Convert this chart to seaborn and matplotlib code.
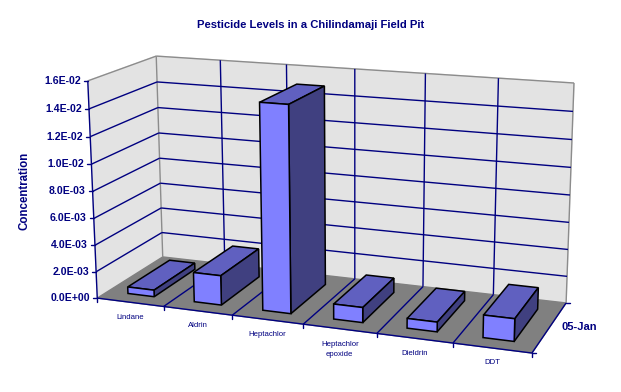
import numpy as np
import matplotlib
matplotlib.use("Agg")
import matplotlib.pyplot as plt
from matplotlib.transforms import Affine2D, Transform
import seaborn as sns

pesticides = ["Lindane", "Aldrin", "Heptachlor", "Heptachlor\nepoxide", "Dieldrin", "DDT"]
concentrations = [0.0005, 0.0022, 0.0150, 0.0011, 0.0007, 0.0016]
y_ticks = [0.0, 0.002, 0.004, 0.006, 0.008, 0.010, 0.012, 0.014, 0.016]
y_tick_labels = ["0.0E+00", "2.0E-03", "4.0E-03", "6.0E-03", "8.0E-03",
                 "1.0E-02", "1.2E-02", "1.4E-02", "1.6E-02"]
series_label = "05-Jan"

NAVY = "#000080"
X0, X1 = -0.5, 5.5
Y1 = 0.016
BAR_Z0, BAR_Z1 = 0.16, 0.81

# corners of the 3d box on the picture, the projection is fitted to them
box_corners = [
    ((X0, 0, 0), (97, 298)),
    ((X1, 0, 0), (532, 353)),
    ((X1, 0, 1), (566, 303)),
    ((X0, 0, 1), (163, 257)),
    ((X0, Y1, 0), (88, 81)),
    ((X0, Y1, 1), (156, 56)),
    ((X1, Y1, 1), (574, 83)),
]


def fit_projection(corners):
    rows, rhs = [], []
    for (x, y, z), (u, v) in corners:
        y = y / Y1
        rows.append([x, y, z, 1, 0, 0, 0, 0, -u * x, -u * y, -u * z])
        rows.append([0, 0, 0, 0, x, y, z, 1, -v * x, -v * y, -v * z])
        rhs += [u, v]
    h = np.linalg.lstsq(np.array(rows, float), np.array(rhs, float), rcond=None)[0]
    return np.append(h, 1).reshape(3, 4)


P = fit_projection(box_corners)


def project(x, y, z):
    x, y, z = np.broadcast_arrays(x, y, z)
    w = np.stack([x, y / Y1, z, np.ones_like(x)], dtype=float)
    u = P @ w
    return u[0] / u[2], u[1] / u[2]


class PlaneTransform(Transform):
    # (category, concentration) on a plane of constant depth -> picture pixels
    input_dims = 2
    output_dims = 2
    is_affine = False

    def __init__(self, plane_z):
        super().__init__()
        self.plane_z = plane_z

    def transform_non_affine(self, values):
        values = np.asarray(values, float)
        return np.column_stack(project(values[:, 0], values[:, 1], self.plane_z))


sns.set_theme(style="white")
plt.rcParams["font.family"] = ["Liberation Sans", "DejaVu Sans"]

fig = plt.figure(figsize=(6.21, 3.92), dpi=100, facecolor="white")
ax = fig.add_axes([0, 0, 1, 1])

# pixel coords of the picture (y down) to display coords
to_display = Affine2D().scale(1, -1).translate(0, 392)


def face(corners, color, z, edge=None, lw=1.0):
    px, py = project(*np.array(corners, float).T)
    ax.fill(px, py, facecolor=color, edgecolor=edge if edge else color, linewidth=lw,
            transform=to_display, zorder=z, clip_on=False)


def line(a, b, color=NAVY, z=2, lw=1.0):
    px, py = project(*np.array([a, b], float).T)
    ax.plot(px, py, color=color, linewidth=lw, transform=to_display,
            zorder=z, clip_on=False, solid_capstyle="butt")


sns.barplot(x=pesticides, y=concentrations, color="#8080FF", saturation=1, width=0.4,
            edgecolor="black", linewidth=1.1, ax=ax)
bars = list(ax.patches)
ax.set_axis_off()

# walls and floor
face([(X0, 0, 0), (X0, Y1, 0), (X0, Y1, 1), (X0, 0, 1)], "#E3E3E3", 1)
face([(X0, 0, 1), (X0, Y1, 1), (X1, Y1, 1), (X1, 0, 1)], "#E3E3E3", 1)
face([(X0, 0, 0), (X1, 0, 0), (X1, 0, 1), (X0, 0, 1)], "#808080", 1.5)

# wall edges
line((X0, Y1, 0), (X0, Y1, 1), "#8C8C8C")
line((X0, Y1, 1), (X1, Y1, 1), "#8C8C8C")
line((X1, Y1, 1), (X1, 0, 1), "#8C8C8C")
line((X0, 0, 1), (X0, Y1, 1), "#8C8C8C")

# grid
for tick in y_ticks[1:-1]:
    line((X0, tick, 0), (X0, tick, 1))
    line((X0, tick, 1), (X1, tick, 1))
for i in range(1, len(pesticides)):
    line((X0 + i, 0, 1), (X0 + i, Y1, 1))
    line((X0 + i, 0, 0), (X0 + i, 0, 1))

# axis lines and ticks
line((X0, 0, 0), (X0, Y1, 0), z=3)
line((X0, 0, 0), (X1, 0, 0), z=3)
line((X1, 0, 0), (X1, 0, 1), z=3)
for tick, label in zip(y_ticks, y_tick_labels):
    px, py = project(X0, tick, 0)
    ax.plot([px - 4, px], [py, py], color=NAVY, linewidth=1.0, transform=to_display, zorder=3)
    ax.text(px - 7, py, label, transform=to_display, ha="right", va="center", color=NAVY,
            fontsize=7.6, fontweight="bold")
for i in range(len(pesticides) + 1):
    px, py = project(X0 + i, 0, 0)
    ax.plot([px, px], [py, py + 4], color=NAVY, linewidth=1.0, transform=to_display, zorder=3)
for depth in [0, 1]:
    px, py = project(X1, 0, depth)
    ax.plot([px, px + 4], [py, py], color=NAVY, linewidth=1.0, transform=to_display, zorder=3)

# seaborn draws the front faces, the top and side come from the same bars
for i, bar in enumerate(bars):
    left, right = bar.get_x(), bar.get_x() + bar.get_width()
    top = bar.get_height()
    z = 5 + i
    face([(left, top, BAR_Z0), (right, top, BAR_Z0), (right, top, BAR_Z1), (left, top, BAR_Z1)],
         "#6060C0", z, "black", 1.1)
    face([(right, 0, BAR_Z0), (right, top, BAR_Z0), (right, top, BAR_Z1), (right, 0, BAR_Z1)],
         "#404080", z, "black", 1.1)
    bar.set_transform(PlaneTransform(BAR_Z0) + to_display)
    bar.set_zorder(z + 0.5)
    bar.set_clip_on(False)

# category labels
for i, label in enumerate(pesticides):
    px, py = project(i, 0, 0)
    ax.text(px, py + 15 + 6 * label.count("\n"), label, transform=to_display, ha="center", va="center",
            color=NAVY, fontsize=5.6, linespacing=1.5)

px, py = project(X1, 0, 0.5)
ax.text(px + 30, py, series_label, transform=to_display, ha="center", va="center", color=NAVY,
        fontsize=8, fontweight="bold")
ax.text(25, 191, "Concentration", transform=to_display, rotation=90, ha="center", va="center",
        color=NAVY, fontsize=8.3, fontweight="bold")
ax.text(311, 25, "Pesticide Levels in a Chilindamaji Field Pit", transform=to_display, ha="center",
        va="center", color=NAVY, fontsize=8.1, fontweight="bold")

fig.savefig("out.png", dpi=100, facecolor="white")
